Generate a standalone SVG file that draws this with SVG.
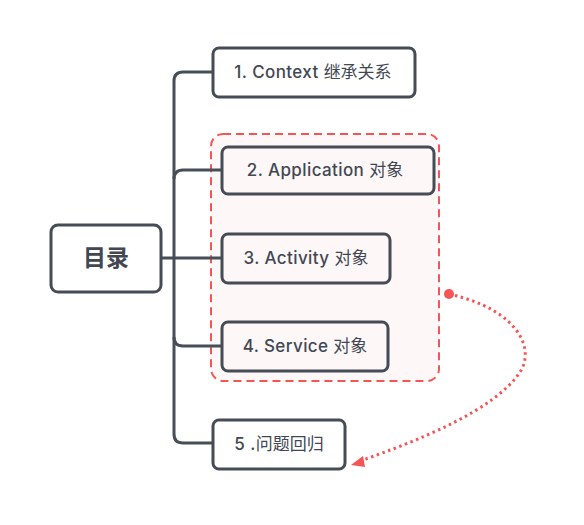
<svg xmlns="http://www.w3.org/2000/svg" width="584" height="525" viewBox="0 0 584 525">
<style>
.node rect{fill:#fff;stroke:#464c55;stroke-width:3}
.inner rect{fill:#fdf7f7}
.lbl{font-family:Inter,"Noto Sans CJK SC",sans-serif;font-size:17px;font-weight:500;fill:#414853;text-anchor:middle;letter-spacing:0.4px}
.cjk{font-weight:400;font-family:"Noto Sans CJK SC",sans-serif;letter-spacing:0}
.conn path{fill:none;stroke:#474e57;stroke-width:3}
.conn path.rel{stroke:#f55555;stroke-dasharray:2.5,3.5}
</style>
<rect id="group" x="211" y="134" width="228" height="247" rx="12" fill="#fdf7f7" stroke="#f55555" stroke-width="2" stroke-dasharray="8,5"/>
<g class="conn">
<path d="M212,72 H183 Q174,72 174,81 V434 Q174,443 183,443 H212"/>
<path d="M222,170 H183 Q174,170 174,179"/>
<path d="M222,346 H183 Q174,346 174,337"/>
<path d="M161,258 H222"/>
<path class="rel" d="M449,294 C520,310 535,350 520,372 C495,410 420,440 360,461"/>
</g>
<circle cx="449" cy="294" r="5" fill="#f55555"/>
<path d="M351,465 L363,456 L365,467 z" fill="#f55555"/>
<g id="root" class="node"><rect x="51" y="225" width="110" height="67" rx="7"/><text class="lbl" x="106" y="266" style="font-size:23px;font-weight:700;font-family:'Noto Sans CJK SC',sans-serif;letter-spacing:0">目录</text></g>
<g id="n1" class="node"><rect x="213" y="48" width="202" height="49" rx="6"/><text class="lbl" x="313" y="78">1. Context <tspan class="cjk">继承关系</tspan></text></g>
<g id="n2" class="node inner"><rect x="222" y="147" width="212" height="47" rx="6"/><text class="lbl" x="325" y="176">2. Application <tspan class="cjk">对象</tspan></text></g>
<g id="n3" class="node inner"><rect x="222" y="234" width="168" height="49" rx="6"/><text class="lbl" x="306" y="264">3. Activity <tspan class="cjk">对象</tspan></text></g>
<g id="n4" class="node inner"><rect x="222" y="322" width="166" height="49" rx="6"/><text class="lbl" x="305" y="352">4. Service <tspan class="cjk">对象</tspan></text></g>
<g id="n5" class="node"><rect x="213" y="420" width="132" height="49" rx="6"/><text class="lbl" x="279" y="450">5 .<tspan class="cjk">问题回归</tspan></text></g>
</svg>
